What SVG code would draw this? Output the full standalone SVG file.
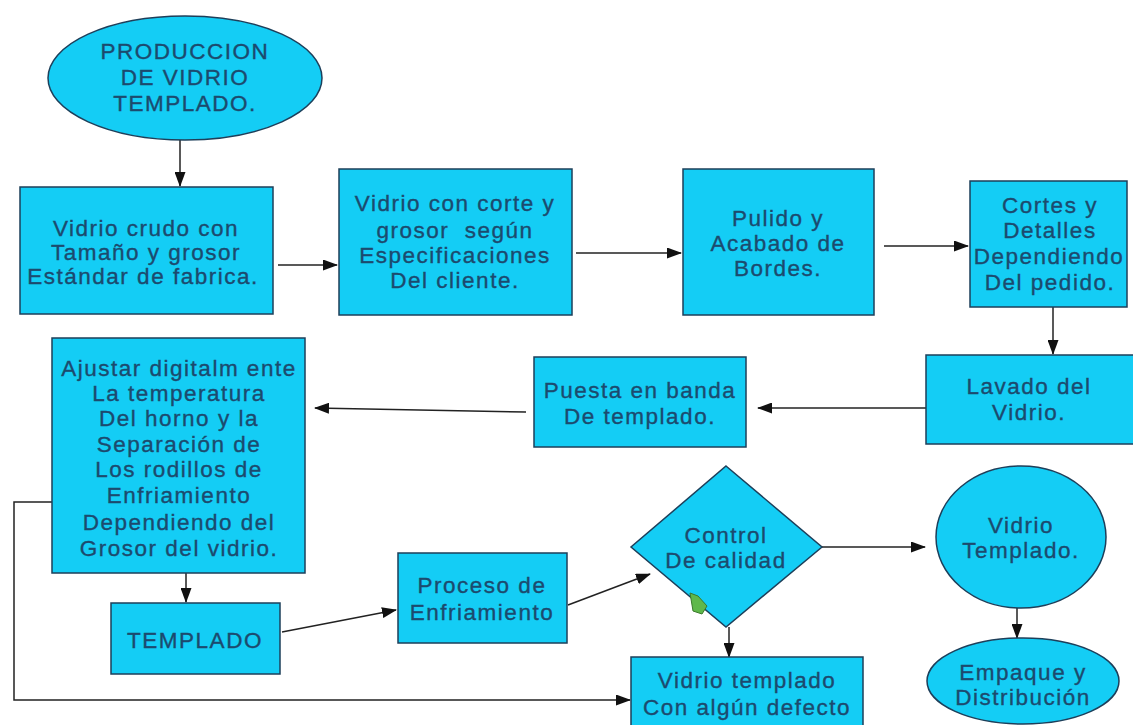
<svg xmlns="http://www.w3.org/2000/svg" width="1133" height="725" viewBox="0 0 1133 725">
<style>
.s{fill:#14cdf5;stroke:#1d3f5a;stroke-width:1.5}
.t{font-family:"Liberation Sans",Arial,sans-serif;font-size:22.5px;fill:#1c4a6e;stroke:#1c4a6e;stroke-width:0.35;text-anchor:middle;letter-spacing:1.5px;white-space:pre}
.c{stroke:#222;stroke-width:1.5;fill:none}
</style>
<defs>
<marker id="a" markerWidth="15" markerHeight="11" refX="14" refY="5.5" orient="auto" markerUnits="userSpaceOnUse">
<path d="M0,0 L15,5.5 L0,11 z" fill="#111"/>
</marker>
</defs>
<rect width="1133" height="725" fill="#fff"/>
<g id="connectors">
<line class="c" x1="180" y1="140" x2="180" y2="186" marker-end="url(#a)"/>
<line class="c" x1="278" y1="265" x2="337" y2="265" marker-end="url(#a)"/>
<line class="c" x1="576" y1="253" x2="681" y2="253" marker-end="url(#a)"/>
<line class="c" x1="884" y1="246" x2="968" y2="246" marker-end="url(#a)" stroke="#555" stroke-width="2"/>
<line class="c" x1="1053" y1="307" x2="1053" y2="354" marker-end="url(#a)"/>
<line class="c" x1="926" y1="408" x2="758" y2="408" marker-end="url(#a)" stroke="#555" stroke-width="2"/>
<line class="c" x1="526" y1="412" x2="315" y2="408" marker-end="url(#a)"/>
<line class="c" x1="186" y1="573" x2="186" y2="602" marker-end="url(#a)"/>
<line class="c" x1="282" y1="632" x2="396" y2="610" marker-end="url(#a)"/>
<line class="c" x1="568" y1="605" x2="650" y2="574" marker-end="url(#a)"/>
<line class="c" x1="822" y1="547" x2="925" y2="547" marker-end="url(#a)"/>
<line class="c" x1="729" y1="627" x2="729" y2="657" marker-end="url(#a)"/>
<line class="c" x1="1017" y1="608" x2="1017" y2="638" marker-end="url(#a)"/>
<polyline class="c" points="52,502 14,502 14,700 630,700" stroke="#555" marker-end="url(#a)"/>
</g>
<g id="n_start">
<ellipse class="s" cx="185" cy="78" rx="137" ry="62"/>
<text class="t" x="185" y="59">PRODUCCION</text>
<text class="t" x="185" y="85">DE VIDRIO</text>
<text class="t" x="185" y="111">TEMPLADO.</text>
</g>
<g id="n_crudo">
<rect class="s" x="20" y="187" width="253" height="127"/>
<text class="t" x="146" y="236">Vidrio crudo con</text>
<text class="t" x="146" y="260">Tamaño y grosor</text>
<text class="t" x="143" y="284">Estándar de fabrica.</text>
</g>
<g id="n_corte">
<rect class="s" x="339" y="169" width="233" height="146"/>
<text class="t" x="455" y="211">Vidrio con corte y</text>
<text class="t" x="455" y="238">grosor  según</text>
<text class="t" x="455" y="263">Especificaciones</text>
<text class="t" x="455" y="288">Del cliente.</text>
</g>
<g id="n_pulido">
<rect class="s" x="683" y="169" width="191" height="146"/>
<text class="t" x="778" y="226">Pulido y</text>
<text class="t" x="778" y="251">Acabado de</text>
<text class="t" x="778" y="276">Bordes.</text>
</g>
<g id="n_cortes">
<rect class="s" x="970" y="181" width="157" height="126"/>
<text class="t" x="1050" y="213">Cortes y</text>
<text class="t" x="1050" y="238">Detalles</text>
<text class="t" x="1049" y="264">Dependiendo</text>
<text class="t" x="1050" y="290">Del pedido.</text>
</g>
<g id="n_lavado">
<rect class="s" x="926" y="355" width="210" height="89"/>
<text class="t" x="1029" y="394">Lavado del</text>
<text class="t" x="1029" y="420">Vidrio.</text>
</g>
<g id="n_puesta">
<rect class="s" x="534" y="357" width="212" height="90"/>
<text class="t" x="640" y="398">Puesta en banda</text>
<text class="t" x="640" y="424">De templado.</text>
</g>
<g id="n_ajustar">
<rect class="s" x="52" y="338" width="253" height="235"/>
<text class="t" x="179" y="376">Ajustar digitalm ente</text>
<text class="t" x="179" y="401">La temperatura</text>
<text class="t" x="179" y="426">Del horno y la</text>
<text class="t" x="179" y="452">Separación de</text>
<text class="t" x="179" y="477">Los rodillos de</text>
<text class="t" x="179" y="503">Enfriamiento</text>
<text class="t" x="179" y="530">Dependiendo del</text>
<text class="t" x="179" y="556">Grosor del vidrio.</text>
</g>
<g id="n_templado">
<rect class="s" x="111" y="603" width="169" height="71"/>
<text class="t" x="195" y="648">TEMPLADO</text>
</g>
<g id="n_proceso">
<rect class="s" x="398" y="553" width="169" height="90"/>
<text class="t" x="482" y="593">Proceso de</text>
<text class="t" x="482" y="620">Enfriamiento</text>
</g>
<g id="n_control">
<polygon class="s" points="726,466 822,547 726,627 631,547"/>
<text class="t" x="726" y="543">Control</text>
<text class="t" x="726" y="568">De calidad</text>
<path d="M690,593 L698,596 L707,606 L702,614 L693,611 Z" fill="#5fb84a" stroke="#3b7a2a" stroke-width="1"/>
</g>
<g id="n_defecto">
<rect class="s" x="631" y="657" width="232" height="75"/>
<text class="t" x="747" y="688">Vidrio templado</text>
<text class="t" x="747" y="715">Con algún defecto</text>
</g>
<g id="n_vidrio_templado">
<ellipse class="s" cx="1021" cy="537" rx="85" ry="71"/>
<text class="t" x="1021" y="533">Vidrio</text>
<text class="t" x="1021" y="558">Templado.</text>
</g>
<g id="n_empaque">
<ellipse class="s" cx="1023" cy="681" rx="96" ry="43"/>
<text class="t" x="1023" y="680">Empaque y</text>
<text class="t" x="1023" y="705">Distribución</text>
</g>
</svg>
